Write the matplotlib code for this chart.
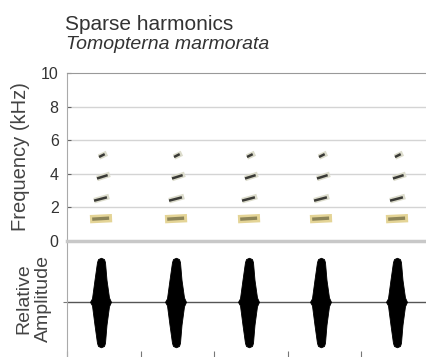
import numpy as np
import matplotlib
matplotlib.use("Agg")
import matplotlib.pyplot as plt

plt.rcParams['font.family'] = ['Liberation Sans', 'DejaVu Sans']

# ---- data ----
title_line1 = "Sparse harmonics"
title_line2 = "Tomopterna marmorata"
freq_ticks = [0, 2, 4, 6, 8, 10]
time_ticks = [0.0, 0.2, 0.4, 0.6, 0.8]
# call onset times (s)
call_onsets = [0.0626, 0.2667, 0.4653, 0.6612, 0.8680]
# harmonics: start/end offset within call (s), start/end frequency (kHz)
harm_t_start = [0.000, 0.011, 0.019, 0.0245]
harm_t_end = [0.060, 0.052, 0.054, 0.046]
harm_f_start = [1.30, 2.40, 3.72, 5.00]
harm_f_end = [1.36, 2.65, 3.97, 5.22]
# amplitude envelope of one call (offset in s, upper / lower amplitude)
env_t = [0.000, 0.0054, 0.0122, 0.0190, 0.0218, 0.0299, 0.0381, 0.0408, 0.0449, 0.0517, 0.0571]
env_up = [0.0, 0.08, 0.50, 0.90, 0.97, 1.00, 0.97, 0.90, 0.50, 0.10, 0.0]
env_lo = [0.0, 0.08, 0.52, 0.93, 1.00, 1.03, 1.00, 0.93, 0.52, 0.10, 0.0]

# ---- figure ----
fig = plt.figure(figsize=(4.26, 3.57), dpi=100)
W, H = 426, 357
left = 67 / W
ax_s = fig.add_axes([left, 1 - 241 / H, 1 - left, (241 - 73) / H])
ax_w = fig.add_axes([left, 0, 1 - left, (357 - 241) / H])

xmax = (W - 67) / 367.5
grey = '#aaaaaa'
txt = '#444444'

# spectrogram
for f in freq_ticks[1:-1]:
    ax_s.axhline(f, color='#d4d4d4', lw=1.0, zorder=0)
for on in call_onsets:
    for i in range(len(harm_f_start)):
        t0 = on + harm_t_start[i]
        t1 = on + harm_t_end[i]
        f0, f1 = harm_f_start[i], harm_f_end[i]
        if i == 0:
            ax_s.plot([t0, t1], [f0, f1], color='#e4d496', lw=6, solid_capstyle='butt', zorder=2)
            ax_s.plot([t0 + 0.006, t1 - 0.008], [f0, f1], color='#8c8458', lw=2.4,
                      solid_capstyle='butt', zorder=3)
        else:
            ax_s.plot([t0, t1], [f0, f1], color='#dcdccc', lw=4.0, solid_capstyle='butt', zorder=2)
            ax_s.plot([t0, t1 - 0.006], [f0, f1 - 0.05], color='#3a3a36', lw=1.8,
                      solid_capstyle='butt', zorder=3)
ax_s.set_xlim(0, xmax)
ax_s.set_ylim(0, 10)
ax_s.set_yticks(freq_ticks)
ax_s.set_yticklabels([str(v) for v in freq_ticks], fontsize=11.5, color='#333333')
ax_s.set_xticks([])
ax_s.tick_params(axis='y', direction='in', length=3, color='#666666', pad=6)
ax_s.spines['right'].set_visible(False)
ax_s.spines['top'].set_color('#999999')
ax_s.spines['left'].set_color(grey)
ax_s.spines['bottom'].set_visible(False)
ax_s.set_ylabel('Frequency (kHz)', fontsize=14.5, color=txt)
ax_s.yaxis.set_label_coords(-0.103, 0.5)

# waveform
ax_w.axhline(0, color='#555555', lw=1.0, zorder=1)
et = np.array(env_t)
for on in call_onsets:
    ax_w.fill_between(on + et, -np.array(env_lo), np.array(env_up), color='black', lw=0.6,
                      edgecolor='black', zorder=2)
ax_w.set_xlim(0, xmax)
ax_w.set_ylim(-1.25, 1.38)
ax_w.set_yticks([0])
ax_w.set_yticklabels([])
ax_w.set_xticks(time_ticks)
ax_w.set_xticklabels([])
ax_w.tick_params(axis='x', direction='in', length=4, color='#777777')
ax_w.tick_params(axis='y', direction='out', length=3, color='#777777')
ax_w.spines['right'].set_visible(False)
ax_w.spines['bottom'].set_visible(False)
ax_w.spines['top'].set_color('#c8c8c8')
ax_w.spines['top'].set_linewidth(2.5)
ax_w.spines['left'].set_color(grey)
ax_w.set_ylabel('Relative\nAmplitude', fontsize=14, color=txt, linespacing=1.2)
ax_w.yaxis.set_label_coords(-0.042, 0.5)

fig.text(65 / W, 1 - 30 / H, title_line1, fontsize=15, color='#333333', ha='left', va='baseline')
fig.text(66 / W, 1 - 49 / H, title_line2, fontsize=14, color='#333333', ha='left', va='baseline',
         style='italic')

fig.savefig('out.png', dpi=100)
